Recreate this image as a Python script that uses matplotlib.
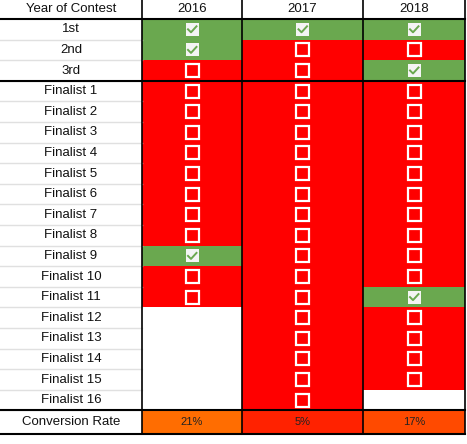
import matplotlib.pyplot as plt
from matplotlib.patches import Rectangle

years = ["2016", "2017", "2018"]
row_labels = ["1st", "2nd", "3rd"] + [f"Finalist {i}" for i in range(1, 17)]
# 1 = checked (won), 0 = unchecked, None = no entry
results = {
    "2016": [1, 1, 0, 0, 0, 0, 0, 0, 0, 0, 0, 1, 0, 0, None, None, None, None, None],
    "2017": [1, 0, 0, 0, 0, 0, 0, 0, 0, 0, 0, 0, 0, 0, 0, 0, 0, 0, 0],
    "2018": [1, 0, 1, 0, 0, 0, 0, 0, 0, 0, 0, 0, 0, 1, 0, 0, 0, 0, None],
}
conversion = ["21%", "5%", "17%"]
conv_colors = ["#ff6d01", "#ff2200", "#ff4a00"]

GREEN, RED = "#6aa84f", "#ff0000"
col_edges = [0, 142, 242, 363, 465]
header_h, row_h, conv_h = 19, 20.6, 24
W, H = 467, 444

fig = plt.figure(figsize=(W / 100, H / 100), dpi=100)
ax = fig.add_axes([0, 0, 1, 1])
ax.set_xlim(0, W)
ax.set_ylim(H, 0)
ax.axis("off")

font = dict(family="Liberation Sans", fontsize=9.5, color="#111111")

ax.text(71, header_h / 2, "Year of Contest", ha="center", va="center", **font)
for j, y in enumerate(years):
    ax.text((col_edges[j + 1] + col_edges[j + 2]) / 2, header_h / 2, y,
            ha="center", va="center", **font)

n = len(row_labels)
for i, lab in enumerate(row_labels):
    top = header_h + i * row_h
    cy = top + row_h / 2
    ax.text(71, cy, lab, ha="center", va="center", **font)
    ax.plot([0, 142], [top + row_h, top + row_h], color="#e0e0e0", lw=1)
    for j, y in enumerate(years):
        v = results[y][i]
        x0, x1 = col_edges[j + 1], col_edges[j + 2]
        if v is None:
            continue
        ax.add_patch(Rectangle((x0, top), x1 - x0, row_h,
                               color=GREEN if v else RED, lw=0))
        cx = (x0 + x1) / 2
        s = 13
        if v:
            ax.add_patch(Rectangle((cx - s / 2, cy - s / 2), s, s,
                                   facecolor="#f4f4f4", edgecolor="none"))
            ax.plot([cx - 4, cx - 1, cx + 4.5], [cy, cy + 3, cy - 3],
                    color=GREEN, lw=1.4)
        else:
            ax.add_patch(Rectangle((cx - s / 2, cy - s / 2), s, s,
                                   facecolor="none", edgecolor="white", lw=1.6))

conv_top = header_h + n * row_h
ax.text(71, conv_top + conv_h / 2, "Conversion Rate", ha="center", va="center", **font)
for j, (c, col) in enumerate(zip(conversion, conv_colors)):
    x0, x1 = col_edges[j + 1], col_edges[j + 2]
    ax.add_patch(Rectangle((x0, conv_top), x1 - x0, conv_h, color=col, lw=0))
    ax.text((x0 + x1) / 2, conv_top + conv_h / 2, c, ha="center", va="center",
            family="Liberation Sans", fontsize=8, color="#222222")

bottom = conv_top + conv_h
for x in col_edges[1:]:
    ax.plot([x, x], [0, bottom], color="black", lw=1.2)
for yy in [header_h, header_h + 3 * row_h, conv_top, bottom]:
    ax.plot([0, 465], [yy, yy], color="black", lw=1.5)

fig.savefig("out.png", dpi=100)
